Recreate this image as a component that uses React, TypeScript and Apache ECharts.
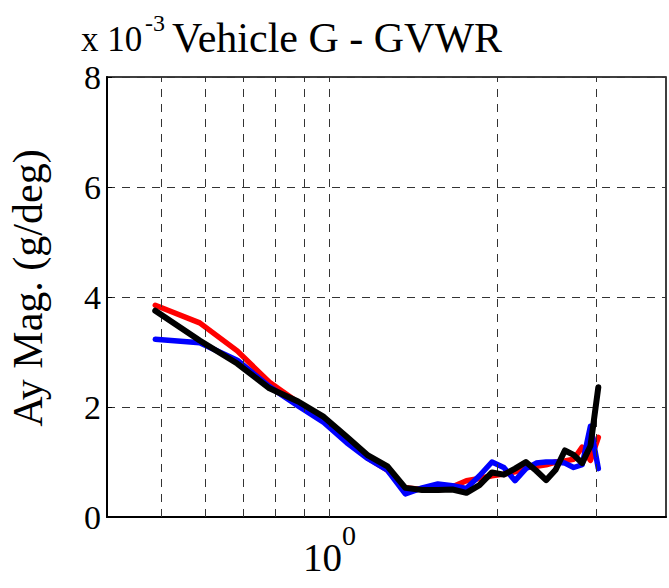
import React, { useEffect, useRef } from "react";
import * as echarts from "echarts";

// Frequency (Hz) of each spectral line
const freqHz = [0.488, 0.586, 0.684, 0.781, 0.879, 0.977, 1.074, 1.172, 1.27, 1.367, 1.465, 1.563, 1.66, 1.758, 1.855, 1.953, 2.051, 2.148, 2.246, 2.344, 2.441, 2.539, 2.637, 2.734, 2.832, 2.93, 3.027];
// Ay magnitude, x 10^-3 g/deg
const redAy = [3.85, 3.53, 3.02, 2.45, 2.08, 1.78, 1.38, 1.07, 0.85, 0.53, 0.5, 0.49, 0.55, 0.66, 0.7, 0.75, 0.78, 0.82, 0.9, 0.92, 0.95, 1.0, 1.02, 1.05, 1.27, 1.03, 1.45];
const blueAy = [3.23, 3.17, 2.85, 2.37, 2.02, 1.72, 1.35, 1.06, 0.85, 0.42, 0.53, 0.6, 0.57, 0.52, 0.75, 1.0, 0.9, 0.66, 0.88, 0.98, 1.0, 1.0, 0.98, 0.9, 0.95, 1.65, 0.88];
const blackAy = [3.75, 3.21, 2.79, 2.34, 2.1, 1.82, 1.46, 1.12, 0.92, 0.53, 0.49, 0.49, 0.5, 0.44, 0.58, 0.81, 0.77, 0.88, 1.0, 0.84, 0.67, 0.86, 1.21, 1.13, 0.98, 1.29, 2.36];
const xGridValues = [0.5, 0.6, 0.7, 0.8, 0.9, 1, 2, 3];
const yTicks = [0, 2, 4, 6, 8];
const titleText = "Vehicle G - GVWR";
const yName = "Ay Mag. (g/deg)";

export default function App() {
  const ref = useRef<HTMLDivElement>(null);
  useEffect(() => {
    const chart = echarts.init(ref.current!, null, { renderer: "svg" });
    const serif = "Liberation Serif";
    const mk = (name: string, vals: number[], color: string, width: number, z: number) => ({
      type: "line",
      name,
      data: freqHz.map((f, i) => [f, vals[i]]),
      showSymbol: false,
      symbol: "none",
      lineStyle: { color, width, cap: "round", join: "round" },
      z,
    });
    chart.setOption({
      animation: false,
      backgroundColor: "#ffffff",
      grid: { left: 107, top: 77, width: 563, height: 440, show: true, borderColor: "#000", borderWidth: 1.5, backgroundColor: "transparent" },
      xAxis: {
        type: "log",
        logBase: 10,
        min: 0.4,
        max: 4,
        axisLine: { show: true, lineStyle: { color: "#000", width: 2 } },
        axisTick: { show: false },
        splitLine: { show: false },
        axisLabel: {
          margin: 4,
          color: "#000",
          formatter: (v: number) => (Math.abs(v - 1) < 1e-6 ? "{b|10}{s|0}" : ""),
          rich: {
            b: { fontFamily: serif, fontSize: 39, color: "#000", verticalAlign: "bottom", lineHeight: 56 },
            s: { fontFamily: serif, fontSize: 28, color: "#000", verticalAlign: "top", lineHeight: 56 },
          },
        },
      },
      yAxis: {
        type: "value",
        min: yTicks[0],
        max: yTicks[yTicks.length - 1],
        interval: 2,
        axisLine: { show: true, lineStyle: { color: "#000", width: 2 } },
        axisTick: { show: true, inside: true, length: 5, lineStyle: { color: "#000" } },
        splitLine: { show: true, lineStyle: { type: [8, 7], color: "#333", width: 1 } },
        axisLabel: { margin: 6, color: "#000", fontFamily: serif, fontSize: 34 },
      },
      graphic: [
        { type: "text", x: 81, y: 39, style: { text: "x 10", fontFamily: serif, fontSize: 35, fill: "#000", textVerticalAlign: "middle" } },
        { type: "text", x: 145, y: 23, style: { text: "-3", fontFamily: serif, fontSize: 24, fill: "#000", textVerticalAlign: "middle" } },
        { type: "text", x: 172, y: 38, style: { text: titleText, fontFamily: serif, fontSize: 42, fill: "#000", textVerticalAlign: "middle" } },
        { type: "text", x: 28, y: 288, rotation: Math.PI / 2, style: { text: yName, fontFamily: serif, fontSize: 42, fill: "#000", textAlign: "center", textVerticalAlign: "middle" } },
      ],
      series: [
        {
          type: "line",
          data: [[1, -10]],
          showSymbol: false,
          symbol: "none",
          lineStyle: { opacity: 0 },
          z: 1,
          markLine: {
            silent: true,
            symbol: "none",
            label: { show: false },
            lineStyle: { type: [8, 7], color: "#333", width: 1 },
            data: xGridValues.map((v) => ({ xAxis: v })),
          },
        },
        mk("red", redAy, "#ff0000", 5.5, 3),
        mk("blue", blueAy, "#0000ff", 5.5, 4),
        mk("black", blackAy, "#000000", 6, 5),
      ],
    });
    return () => chart.dispose();
  }, []);
  return <div ref={ref} style={{ position: "fixed", left: 0, top: 0, width: 669, height: 588 }} />;
}
